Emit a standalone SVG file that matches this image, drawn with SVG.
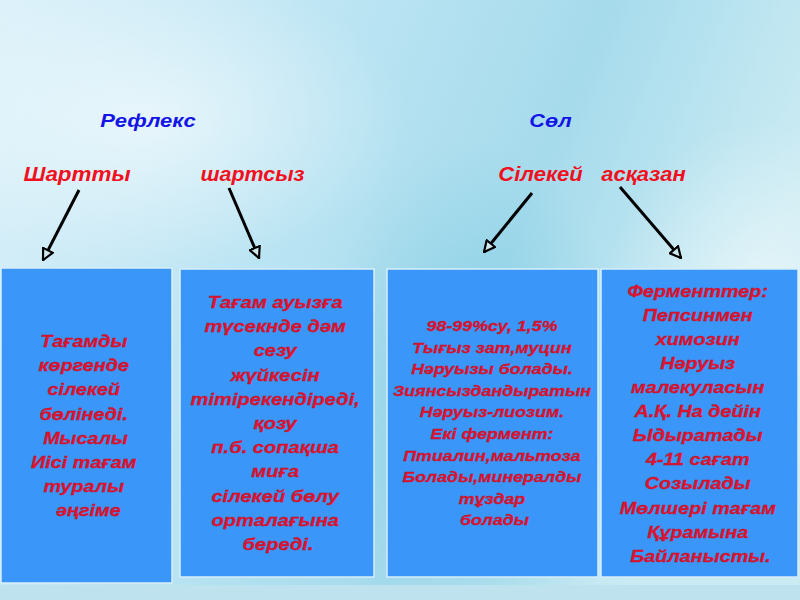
<svg xmlns="http://www.w3.org/2000/svg" width="800" height="600" viewBox="0 0 800 600">
<defs>
<linearGradient id="bg" x1="0" y1="0" x2="1" y2="0.3">
<stop offset="0" stop-color="#dcf1fa"/>
<stop offset="0.45" stop-color="#b8e3f2"/>
<stop offset="0.7" stop-color="#a6dbec"/>
<stop offset="1" stop-color="#cbebf3"/>
</linearGradient>
<radialGradient id="glow1" cx="0.5" cy="0.5" r="0.5">
<stop offset="0" stop-color="#ffffff" stop-opacity="0.55"/>
<stop offset="1" stop-color="#ffffff" stop-opacity="0"/>
</radialGradient>
<radialGradient id="dark1" cx="0.5" cy="0.5" r="0.5">
<stop offset="0" stop-color="#5fbfd8" stop-opacity="0.45"/>
<stop offset="1" stop-color="#5fbfd8" stop-opacity="0"/>
</radialGradient>
<marker id="ah" viewBox="0 0 12 12" refX="11" refY="6" markerWidth="13" markerHeight="13" markerUnits="userSpaceOnUse" orient="auto">
<path d="M1,1 L11,6 L1,11 Z" fill="#cfe8ee" stroke="#000" stroke-width="2"/>
</marker>
<style>
.box{fill:#3a96f8;stroke:#d8eefa;stroke-width:1.5}
.t{font-family:"Liberation Sans",Arial,sans-serif;font-weight:bold;font-style:italic;fill:#e4132f;stroke:#b0102a;stroke-width:0.3;text-anchor:middle}
.b{font-size:16.5px}
.s{font-size:15px}
.h{font-family:"Liberation Sans",Arial,sans-serif;font-weight:bold;font-style:italic;text-anchor:middle}
.blue{fill:#1414e6;font-size:18.5px}
.red{fill:#f01020;font-size:19.5px}
.arr{stroke:#000;stroke-width:3;fill:none;marker-end:url(#ah)}
</style>
</defs>
<rect width="800" height="600" fill="url(#bg)"/>
<ellipse cx="150" cy="120" rx="260" ry="150" fill="url(#glow1)"/>
<ellipse cx="470" cy="400" rx="160" ry="260" fill="url(#dark1)"/>
<ellipse cx="760" cy="320" rx="160" ry="200" fill="url(#glow1)"/>
<rect x="0" y="585" width="800" height="15" fill="#bfe3ee"/>

<g id="heading-reflex"><text class="h blue" transform="matrix(1.19,0,0,1,148,0)" x="0" y="127.5">Рефлекс</text></g>
<g id="heading-sol"><text class="h blue" transform="matrix(1.17,0,0,1,550.5,0)" x="0" y="127.5">Сөл</text></g>
<g id="label-shartty"><text class="h red" transform="matrix(1.15,0,0,1,77,0)" x="0" y="181.5">Шартты</text></g>
<g id="label-shartsyz"><text class="h red" transform="matrix(1.1,0,0,1,252.5,0)" x="0" y="181.5">шартсыз</text></g>
<g id="label-silekei"><text class="h red" transform="matrix(1.13,0,0,1,540.5,0)" x="0" y="181.5">Сілекей</text></g>
<g id="label-askazan"><text class="h red" transform="matrix(1.13,0,0,1,643.5,0)" x="0" y="181.5">асқазан</text></g>

<g id="connectors">
<line class="arr" x1="79" y1="190" x2="43" y2="260"/>
<line class="arr" x1="229" y1="188" x2="259" y2="258"/>
<line class="arr" x1="532" y1="193" x2="484" y2="252"/>
<line class="arr" x1="620" y1="187" x2="681" y2="258"/>
</g>

<g id="box1">
<rect class="box" x="1" y="268" width="171" height="315"/>
<text class="t b" transform="matrix(1.2,0,0,1,86.5,0)">
<tspan x="0" y="347">Тағамды</tspan>
<tspan x="0" y="371.2">көргенде</tspan>
<tspan x="0" y="395.4">сілекей</tspan>
<tspan x="0" y="419.6">бөлінеді.</tspan>
<tspan x="1.5" y="443.8">Мысалы</tspan>
<tspan x="0" y="468">Иісі тағам</tspan>
<tspan x="0" y="492.2">туралы</tspan>
<tspan x="1.5" y="516.4">әңгіме</tspan>
</text>
</g>

<g id="box2">
<rect class="box" x="180" y="269" width="194" height="308"/>
<text class="t b" transform="matrix(1.22,0,0,1,278,0)">
<tspan x="0" y="308">Тағам ауызға</tspan>
<tspan x="0" y="332.2">түсекнде дәм</tspan>
<tspan x="0" y="356.4">сезу</tspan>
<tspan x="0" y="380.6">жүйкесін</tspan>
<tspan x="0" y="404.8">тітірекендіреді,</tspan>
<tspan x="0" y="429">қозу</tspan>
<tspan x="0" y="453.2">п.б. сопақша</tspan>
<tspan x="0" y="477.4">миға</tspan>
<tspan x="0" y="501.6">сілекей бөлу</tspan>
<tspan x="0" y="525.8">орталағына</tspan>
<tspan x="0" y="550">береді.</tspan>
</text>
</g>

<g id="box3">
<rect class="box" x="387" y="269" width="211" height="308"/>
<text class="t s" transform="matrix(1.19,0,0,1,494.5,0)">
<tspan x="0" y="331">98-99%су, 1,5%</tspan>
<tspan x="0" y="352.6">Тығыз зат,муцин</tspan>
<tspan x="0" y="374.2">Нәруызы болады.</tspan>
<tspan x="0" y="395.8">Зиянсыздандыратын</tspan>
<tspan x="0" y="417.4">Нәруыз-лиозим.</tspan>
<tspan x="0" y="439">Екі фермент:</tspan>
<tspan x="0" y="460.6">Птиалин,мальтоза</tspan>
<tspan x="0" y="482.2">Болады,минералды</tspan>
<tspan x="0" y="503.8">тұздар</tspan>
<tspan x="0" y="525.4">болады</tspan>
</text>
</g>

<g id="box4">
<rect class="box" x="601" y="269" width="197" height="308"/>
<text class="t b" transform="matrix(1.2,0,0,1,700.5,0)">
<tspan x="0" y="296.7">Ферменттер:</tspan>
<tspan x="0" y="320.8">Пепсинмен</tspan>
<tspan x="0" y="344.9">химозин</tspan>
<tspan x="0" y="369">Нәруыз</tspan>
<tspan x="0" y="393.1">малекуласын</tspan>
<tspan x="0" y="417.2">А.Қ. На дейін</tspan>
<tspan x="0" y="441.3">Ыдыратады</tspan>
<tspan x="0" y="465.4">4-11 сағат</tspan>
<tspan x="0" y="489.5">Созылады</tspan>
<tspan x="0" y="513.6">Мөлшері тағам</tspan>
<tspan x="0" y="537.7">Құрамына</tspan>
<tspan x="0" y="561.8">Байланысты.</tspan>
</text>
</g>
</svg>
